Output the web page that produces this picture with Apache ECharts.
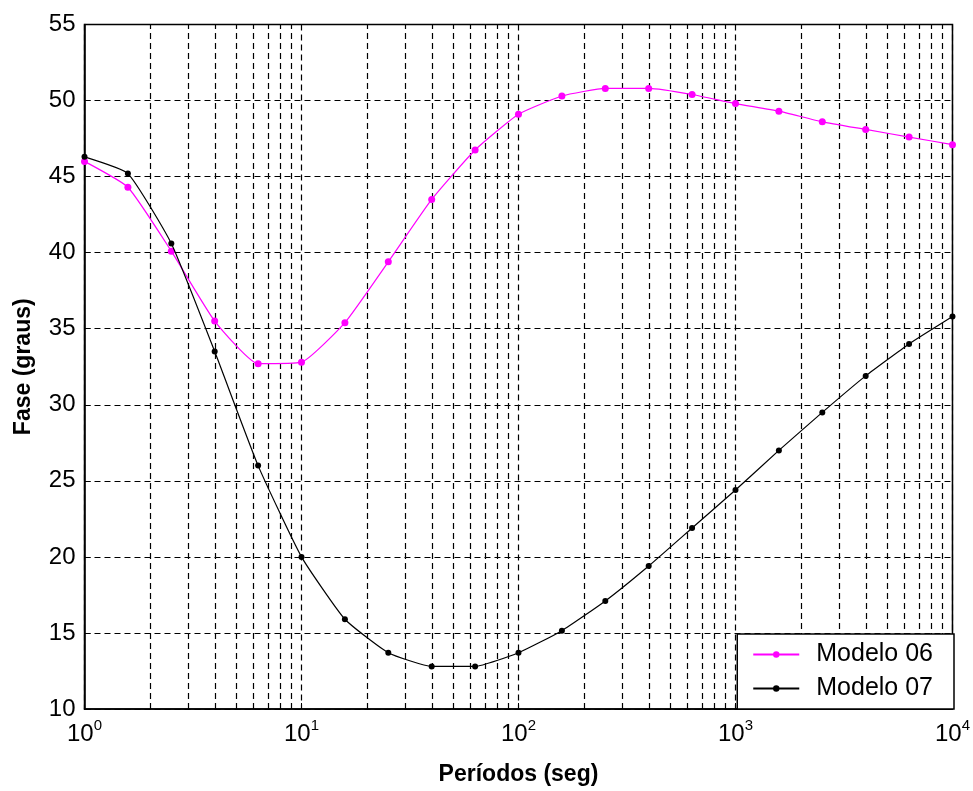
<!DOCTYPE html>
<html>
<head>
<meta charset="utf-8">
<script src="https://cdn.jsdelivr.net/npm/echarts@6/dist/echarts.min.js"></script>
<style>
html,body{margin:0;padding:0;background:#fff;}
#chart{width:973px;height:791px;}
</style>
</head>
<body>
<div id="chart"></div>
<script>
var periods = [1, 1.585, 2.512, 3.981, 6.31, 10, 15.85, 25.12, 39.81, 63.1, 100, 158.5, 251.2, 398.1, 631, 1000, 1585, 2512, 3981, 6310, 10000];
var modelo06 = [46.0, 44.3, 40.1, 35.5, 32.7, 32.8, 35.4, 39.4, 43.5, 46.75, 49.1, 50.3, 50.8, 50.8, 50.4, 49.8, 49.3, 48.6, 48.1, 47.6, 47.1];
var modelo07 = [46.3, 45.2, 40.6, 33.5, 26.0, 20.0, 15.9, 13.7, 12.8, 12.8, 13.7, 15.15, 17.1, 19.4, 21.9, 24.4, 27.0, 29.5, 31.9, 34.0, 35.8];
var seriesNames = ['Modelo 06', 'Modelo 07'];
var yTicks = [10, 15, 20, 25, 30, 35, 40, 45, 50, 55];
var xDecades = [1, 10, 100, 1000, 10000];

var minorGrid = [];
for (var d = 0; d < xDecades.length - 1; d++) {
  for (var m = 2; m <= 9; m++) minorGrid.push({xAxis: xDecades[d] * m});
}

function pairs(xs, ys) { return xs.map(function (x, i) { return [x, ys[i]]; }); }

var chart = echarts.init(document.getElementById('chart'), null, {renderer: 'canvas'});
var gridDash = {color: '#000', type: [6, 4], width: 1.2};
chart.setOption({
  backgroundColor: '#fff',
  animation: false,
  textStyle: {fontFamily: 'Liberation Sans, Arial, sans-serif'},
  grid: {left: 84.5, right: 19, top: 24.5, bottom: 82, show: true, borderColor: '#000', borderWidth: 1.5, backgroundColor: 'transparent'},
  xAxis: {
    type: 'log', logBase: 10, min: 1, max: 10000,
    name: 'Períodos (seg)', nameLocation: 'middle', nameGap: 54,
    nameTextStyle: {fontSize: 23, fontWeight: 'bold', color: '#000', fontFamily: 'Liberation Sans, Arial'},
    axisLine: {show: true, lineStyle: {color: '#000', width: 1.5}},
    axisTick: {show: true, inside: true, length: 6, lineStyle: {color: '#000'}},
    splitLine: {show: true, lineStyle: gridDash},
    axisLabel: {
      margin: 9, color: '#000',
      formatter: function (v) {
        var e = Math.round(Math.log10(v));
        return '{b|10}{s|' + e + '}';
      },
      rich: {
        b: {fontSize: 24, color: '#000', fontFamily: 'Liberation Sans, Arial', lineHeight: 28, verticalAlign: 'bottom'},
        s: {fontSize: 15, color: '#000', fontFamily: 'Liberation Sans, Arial', lineHeight: 28, verticalAlign: 'top', padding: [0, 0, 14, 0]}
      }
    }
  },
  yAxis: {
    type: 'value', min: 10, max: 55, interval: 5,
    name: 'Fase (graus)', nameLocation: 'middle', nameGap: 49,
    nameTextStyle: {fontSize: 23, fontWeight: 'bold', color: '#000', fontFamily: 'Liberation Sans, Arial'},
    axisLine: {show: true, lineStyle: {color: '#000', width: 1.5}},
    axisTick: {show: true, inside: true, length: 6, lineStyle: {color: '#000'}},
    splitLine: {show: true, lineStyle: gridDash},
    axisLabel: {margin: 9, fontSize: 24, color: '#000', fontFamily: 'Liberation Sans, Arial'}
  },
  legend: {
    orient: 'vertical', right: 19, bottom: 82,
    backgroundColor: '#fff', borderColor: '#000', borderWidth: 1.5, borderRadius: 0,
    padding: [8, 21, 8, 15], itemGap: 9, itemWidth: 46, itemHeight: 8,
    textStyle: {fontSize: 25, color: '#000', fontFamily: 'Liberation Sans, Arial', padding: [0, 0, 0, 12]},
    data: seriesNames
  },
  series: [
    {
      name: seriesNames[0], type: 'line', data: pairs(periods, modelo06),
      smooth: 0.15, symbol: 'circle', symbolSize: 7,
      lineStyle: {color: '#ff00ff', width: 1.2}, itemStyle: {color: '#ff00ff'},
      z: 5,
      markLine: {
        silent: true, symbol: ['none', 'none'], label: {show: false},
        lineStyle: gridDash, animation: false, z: 1,
        data: minorGrid
      }
    },
    {
      name: seriesNames[1], type: 'line', data: pairs(periods, modelo07),
      smooth: 0.15, symbol: 'circle', symbolSize: 6,
      lineStyle: {color: '#000', width: 1.2}, itemStyle: {color: '#000'},
      z: 6
    }
  ]
});
</script>
</body>
</html>
